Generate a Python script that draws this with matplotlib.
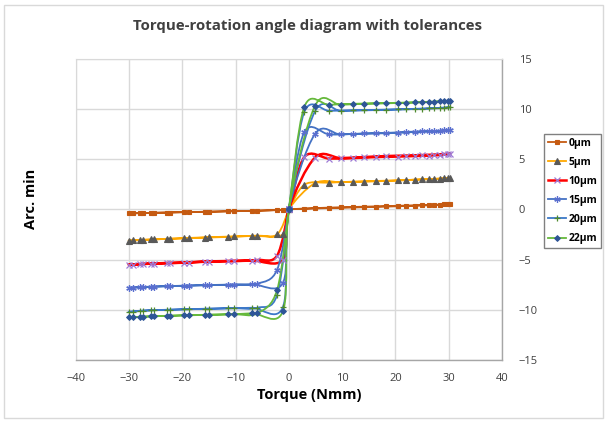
import numpy as np
import matplotlib
matplotlib.use('Agg')
import matplotlib.pyplot as plt
from matplotlib.path import Path
from matplotlib.patches import PathPatch, Rectangle
from matplotlib.lines import Line2D

plt.rcParams['font.family'] = ['Open Sans', 'DejaVu Sans']

# torque (Nmm): loading 0->+30, unloading +30->0, loading 0->-30, unloading -30->0
torque = [0, 2.9, 7.6, 12.1, 16.3, 20.4, 23.6, 26.3, 28.3, 29.9,
          30.3, 29.1, 27.3, 25.0, 21.9, 18.2, 14.1, 9.7, 4.9, 0,
          -1.1, -6.9, -11.5, -15.8, -19.6, -22.9, -25.8, -28.0, -30.1,
          -29.3, -27.4, -25.3, -22.3, -18.8, -15.0, -10.3, -5.9, -2.2, 0]

ang_0 = [0, 0.05, 0.12, 0.18, 0.24, 0.3, 0.35, 0.4, 0.45, 0.5,
         0.52, 0.48, 0.45, 0.42, 0.37, 0.32, 0.26, 0.2, 0.12, 0,
         -0.05, -0.15, -0.2, -0.25, -0.28, -0.32, -0.35, -0.38, -0.4,
         -0.4, -0.38, -0.35, -0.32, -0.28, -0.24, -0.19, -0.14, -0.08, 0]
ang_5 = [0, 2.45, 2.65, 2.75, 2.82, 2.88, 2.95, 3.0, 3.05, 3.1,
         3.12, 3.08, 3.03, 2.98, 2.9, 2.82, 2.75, 2.7, 2.6, 0,
         -2.5, -2.65, -2.75, -2.82, -2.9, -2.95, -3.0, -3.05, -3.12,
         -3.1, -3.05, -3.0, -2.92, -2.85, -2.78, -2.7, -2.62, -2.5, 0]
ang_10 = [0, 5.2, 5.05, 5.1, 5.2, 5.25, 5.3, 5.35, 5.4, 5.5,
          5.55, 5.5, 5.45, 5.4, 5.35, 5.3, 5.2, 5.1, 5.15, 0,
          -5.0, -5.1, -5.15, -5.2, -5.3, -5.35, -5.4, -5.45, -5.5,
          -5.5, -5.45, -5.4, -5.35, -5.3, -5.2, -5.15, -5.05, -4.6, 0]
ang_15 = [0, 7.7, 7.45, 7.5, 7.55, 7.6, 7.7, 7.75, 7.8, 7.9,
          7.9, 7.85, 7.8, 7.75, 7.7, 7.6, 7.55, 7.45, 7.5, 0,
          -7.3, -7.45, -7.5, -7.55, -7.6, -7.65, -7.7, -7.75, -7.8,
          -7.8, -7.75, -7.7, -7.65, -7.6, -7.55, -7.5, -7.4, -6.0, 0]
ang_20 = [0, 9.7, 9.8, 9.85, 9.9, 9.95, 10.0, 10.05, 10.1, 10.15,
          10.15, 10.1, 10.05, 10.0, 9.95, 9.9, 9.85, 9.8, 9.75, 0,
          -9.7, -9.8, -9.85, -9.9, -9.95, -10.0, -10.05, -10.1, -10.2,
          -10.2, -10.1, -10.05, -10.0, -9.95, -9.9, -9.85, -9.8, -8.5, 0]
ang_22 = [0, 10.2, 10.4, 10.5, 10.55, 10.6, 10.65, 10.7, 10.75, 10.8,
          10.8, 10.75, 10.7, 10.65, 10.6, 10.55, 10.5, 10.4, 10.3, 0,
          -10.1, -10.35, -10.45, -10.5, -10.55, -10.6, -10.65, -10.7, -10.75,
          -10.75, -10.7, -10.65, -10.6, -10.55, -10.5, -10.45, -10.35, -8.0, 0]

labels = ['0µm', '5µm', '10µm', '15µm', '20µm', '22µm']
series = [ang_0, ang_5, ang_10, ang_15, ang_20, ang_22]
x_ticks = [-40, -30, -20, -10, 0, 10, 20, 30, 40]
y_ticks = [-15, -10, -5, 0, 5, 10, 15]

styles = [
    dict(lc='#C55A11', lw=1.3, m='s', mc='#C55A11', ms=3.2, mew=0.8),
    dict(lc='#FFA800', lw=1.3, m='^', mc='#595959', ms=3.8, mew=0.8),
    dict(lc='#FF0000', lw=1.8, m='x', mc='#9E7BD6', ms=4.0, mew=0.9),
    dict(lc='#4472C4', lw=1.3, m=(6, 2, 0), mc='#5A6FCF', ms=4.6, mew=0.9),
    dict(lc='#3C78C8', lw=1.3, m='+', mc='#4E8A2E', ms=5.0, mew=0.9),
    dict(lc='#66B93C', lw=1.3, m='D', mc='#2E5597', ms=3.0, mew=0.7),
]


def smooth_path(xs, ys):
    pts = np.column_stack([xs, ys]).astype(float)
    n = len(pts)
    verts = [pts[0]]
    codes = [Path.MOVETO]
    for i in range(n - 1):
        p0 = pts[i - 1] if i > 0 else pts[i]
        p1 = pts[i]
        p2 = pts[i + 1]
        p3 = pts[i + 2] if i + 2 < n else pts[i + 1]
        verts += [p1 + (p2 - p0) / 6.0, p2 - (p3 - p1) / 6.0, p2]
        codes += [Path.CURVE4] * 3
    return Path(verts, codes)


fig = plt.figure(figsize=(6.07, 4.23), dpi=100)
fig.patches.append(Rectangle((4 / 607, 5 / 423), 599 / 607, 413 / 423,
                             transform=fig.transFigure, fill=False,
                             edgecolor='#D9D9D9', linewidth=1.0))
ax = fig.add_axes([75.8 / 607, 1 - 360 / 423, (502 - 75.8) / 607, (360 - 58.6) / 423])

handles = []
for lab, ys, st in zip(labels, series, styles):
    patch = PathPatch(smooth_path(torque, ys), fill=False, edgecolor=st['lc'],
                      linewidth=st['lw'], zorder=3, capstyle='round', joinstyle='round')
    ax.add_patch(patch)
    ax.plot(torque, ys, linestyle='none', marker=st['m'], color=st['mc'],
            markersize=st['ms'], markeredgewidth=st['mew'], zorder=4)
    handles.append(Line2D([], [], color=st['lc'], linewidth=st['lw'], marker=st['m'],
                          markerfacecolor=st['mc'], markeredgecolor=st['mc'],
                          markersize=st['ms'], markeredgewidth=st['mew']))

ax.set_xlim(-40, 40)
ax.set_ylim(-15, 15)
ax.set_xticks(x_ticks)
ax.set_yticks(y_ticks)
ax.grid(True, color='#D9D9D9', linewidth=1.0, zorder=0)
ax.set_axisbelow(True)
ax.yaxis.tick_right()
ax.tick_params(axis='both', length=0, labelsize=8, labelcolor='#404040')
ax.tick_params(axis='y', pad=12)
ax.tick_params(axis='x', pad=9)
for lbl in ax.get_yticklabels():
    lbl.set_horizontalalignment('left')
for side in ['left', 'top']:
    ax.spines[side].set_color('#D9D9D9')
for side in ['right', 'bottom']:
    ax.spines[side].set_color('#A6A6A6')
    ax.spines[side].set_linewidth(1.0)

fig.text(308 / 607, 1 - 26 / 423, 'Torque-rotation angle diagram with tolerances',
         ha='center', va='center', fontsize=10.8, fontweight='bold', color='#404040')
fig.text(309 / 607, 1 - 395 / 423, 'Torque (Nmm)', ha='center', va='center',
         fontsize=10.5, fontweight='bold', color='black')
fig.text(31 / 607, 1 - 199 / 423, 'Arc. min', ha='center', va='center', rotation=90,
         fontsize=10.5, fontweight='bold', color='black')

leg = fig.legend(handles, labels, loc='upper left', bbox_to_anchor=(544 / 607, 1 - 134 / 423),
                 frameon=True, fancybox=False, edgecolor='#808080', framealpha=1,
                 prop={'weight': 'bold', 'size': 7.5}, handlelength=1.8, handletextpad=0.2,
                 borderpad=0.35, labelspacing=0.78, borderaxespad=0)
leg.get_frame().set_linewidth(1.0)

fig.savefig('out.png', dpi=100)
